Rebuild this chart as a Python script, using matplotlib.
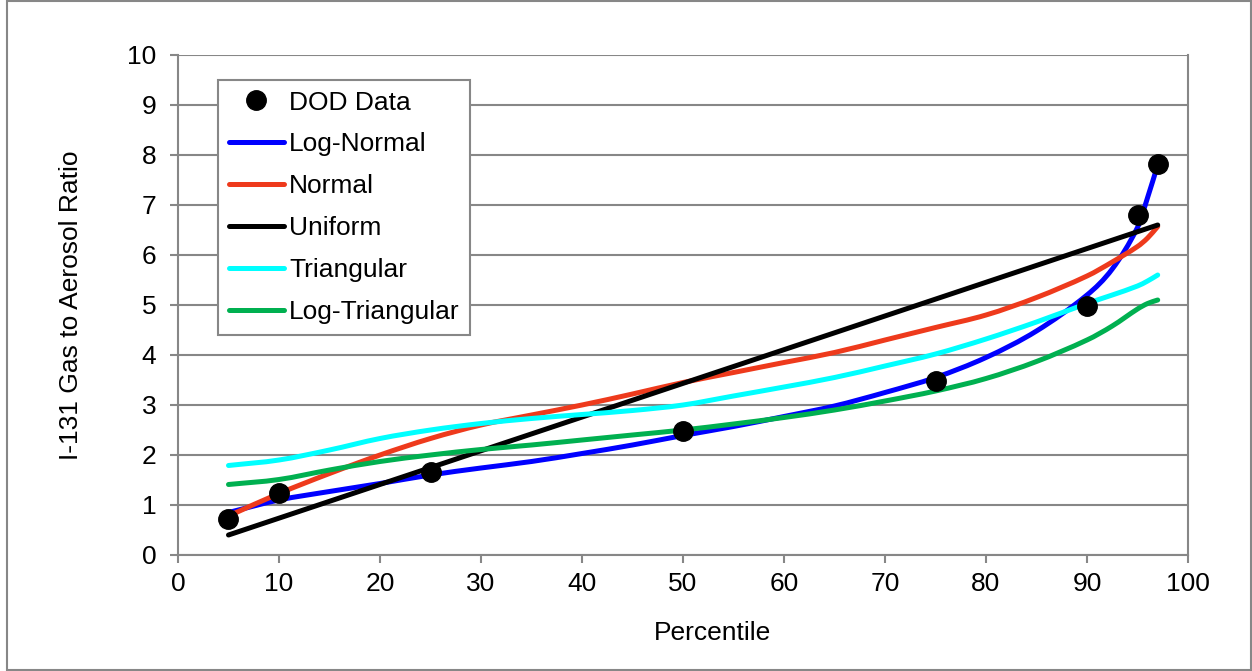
import matplotlib

matplotlib.use("Agg")
import matplotlib.pyplot as plt
from matplotlib.lines import Line2D
from matplotlib.patches import PathPatch, Rectangle
from matplotlib.path import Path

plt.rcParams["font.family"] = ["Liberation Sans", "DejaVu Sans"]

# DOD measurements
dod_pct = [5, 10, 25, 50, 75, 90, 95, 97]
dod_ratio = [0.73, 1.25, 1.67, 2.48, 3.48, 4.98, 6.8, 7.82]

# fitted distribution quantiles
fit_pct = [5, 10, 15, 20, 25, 30, 35, 40, 45, 50, 55, 60, 65, 70, 75, 80, 85, 90, 92.5, 95, 96, 97]
log_normal = [0.85, 1.1, 1.27, 1.43, 1.6, 1.74, 1.87, 2.03, 2.2, 2.39, 2.57, 2.77, 2.98,
              3.25, 3.55, 3.95, 4.48, 5.2, 5.72, 6.55, 7.15, 7.8]
normal = [0.78, 1.23, 1.63, 2.0, 2.33, 2.6, 2.8, 3.0, 3.22, 3.45, 3.65, 3.85, 4.05,
          4.3, 4.55, 4.8, 5.15, 5.58, 5.86, 6.17, 6.34, 6.57]
triangular = [1.79, 1.9, 2.1, 2.33, 2.5, 2.63, 2.73, 2.81, 2.89, 3.0, 3.18, 3.36, 3.55,
              3.78, 4.02, 4.32, 4.66, 5.03, 5.2, 5.38, 5.48, 5.6]
log_triangular = [1.41, 1.51, 1.7, 1.87, 2.0, 2.11, 2.2, 2.3, 2.4, 2.5, 2.62, 2.75, 2.9,
                  3.08, 3.28, 3.53, 3.87, 4.3, 4.58, 4.92, 5.03, 5.1]
uniform_pct = [5, 97]
uniform = [0.4, 6.6]

GRAY = "#878787"
FS = 19
LW = 3.6


def smooth_path(xs, ys):
    """Cubic Hermite curve through the points, drawn as Bezier segments."""
    n = len(xs)
    slopes = []
    for i in range(n):
        a = max(i - 1, 0)
        b = min(i + 1, n - 1)
        slopes.append((ys[b] - ys[a]) / (xs[b] - xs[a]))
    verts = [(xs[0], ys[0])]
    codes = [Path.MOVETO]
    for i in range(n - 1):
        dx = (xs[i + 1] - xs[i]) / 3
        verts += [(xs[i] + dx, ys[i] + slopes[i] * dx),
                  (xs[i + 1] - dx, ys[i + 1] - slopes[i + 1] * dx),
                  (xs[i + 1], ys[i + 1])]
        codes += [Path.CURVE4] * 3
    return Path(verts, codes)


fig = plt.figure(figsize=(12.52, 6.71), dpi=100)
fig.patches.append(Rectangle((7 / 1252, 1 / 671), 1244 / 1252, 669 / 671,
                             transform=fig.transFigure, fill=False,
                             edgecolor=GRAY, linewidth=1.5))

ax = fig.add_axes([178 / 1252, 116 / 671, 1010 / 1252, 500 / 671])

series = [
    ("Log-Normal", "#0000FF", fit_pct, log_normal),
    ("Normal", "#EE3A1C", fit_pct, normal),
    ("Uniform", "black", uniform_pct, uniform),
    ("Triangular", "#00FFFF", fit_pct, triangular),
    ("Log-Triangular", "#00B050", fit_pct, log_triangular),
]

handles = [Line2D([], [], ls="none", marker="o", color="black", ms=14)]
labels = ["DOD Data"]
for name, color, xs, ys in series:
    ax.add_patch(PathPatch(smooth_path(xs, ys), facecolor="none", edgecolor=color,
                           lw=LW, capstyle="round", zorder=3))
    handles.append(Line2D([], [], color=color, lw=LW, solid_capstyle="round"))
    labels.append(name)

ax.plot(dod_pct, dod_ratio, "o", color="black", ms=14, zorder=4)

ax.set_xlim(0, 100)
ax.set_ylim(0, 10)
ax.set_xticks(range(0, 101, 10))
ax.set_yticks(range(0, 11))
ax.grid(axis="y", color=GRAY, lw=1.5)
ax.set_axisbelow(True)
for side in ("left", "bottom", "right"):
    ax.spines[side].set_color(GRAY)
    ax.spines[side].set_linewidth(1.5)
ax.spines["top"].set_visible(False)
ax.tick_params(axis="both", direction="out", length=5.5, width=1.5, color=GRAY,
               labelsize=FS)
ax.tick_params(axis="y", pad=10)
ax.tick_params(axis="x", pad=7)

ax.set_xlabel("Percentile", fontsize=FS)
ax.set_ylabel("I-131 Gas to Aerosol Ratio", fontsize=FS)
ax.xaxis.set_label_coords(0.529, -0.132)
ax.yaxis.set_label_coords(-0.094, 0.5)

leg = ax.legend(handles, labels,
                loc="upper left", bbox_to_anchor=(0.0396, 0.95), borderaxespad=0,
                fontsize=FS, frameon=True, fancybox=False, framealpha=1,
                edgecolor=GRAY, handlelength=2.1, handletextpad=0.2,
                labelspacing=0.68, borderpad=0.4)
leg.get_frame().set_linewidth(1.5)

fig.savefig("out.png", dpi=100)
